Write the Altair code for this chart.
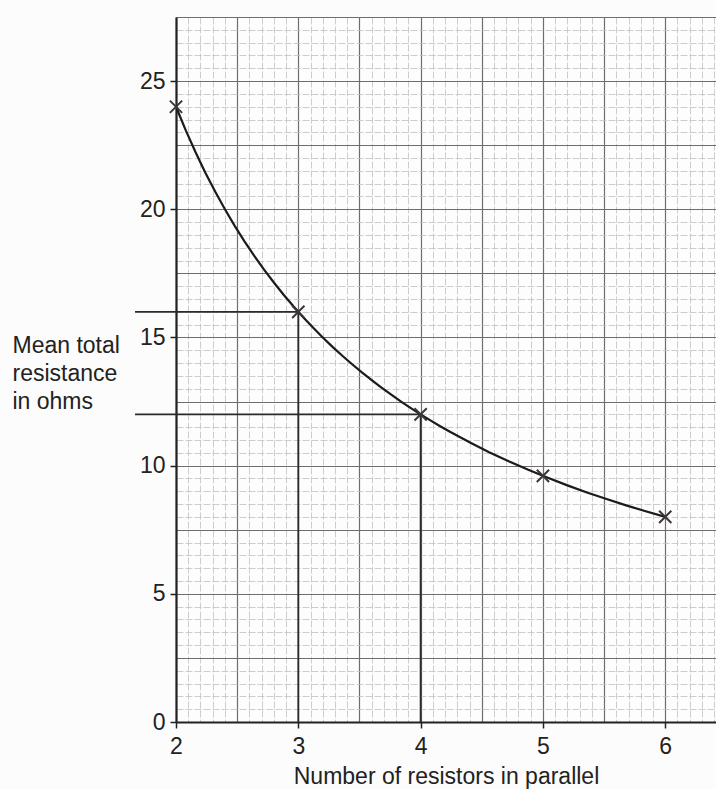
import altair as alt
import numpy as np
import pandas as pd

# Measured mean total resistance for n identical resistors in parallel
n_resistors = [2, 3, 4, 5, 6]
mean_resistance = [24, 16, 12, 9.6, 8]

# Read-off construction lines: from the resistance axis across to the curve, then down
guide_n = [3, 4]
guide_r = [16, 12]
guide_start = 1.665  # lines begin just left of the resistance axis

# Graph-paper rulings (minor squares) and axis ranges
x_min, x_max = 2.0, 6.415
y_min, y_max = 0.0, 27.5
x_grid = np.round(np.arange(2.0, 6.41, 0.1), 2).tolist()
y_grid = np.round(np.arange(0.0, 27.51, 0.5), 2).tolist()

FONT = "Liberation Sans"
INK = "#222222"

curve_df = pd.DataFrame({"n": n_resistors, "r": mean_resistance})

rows = []
for gn, gr in zip(guide_n, guide_r):
    rows.append({"x": guide_start, "x2": gn, "y": gr, "y2": gr})
    rows.append({"x": gn, "x2": gn, "y": gr, "y2": 0})
guide_df = pd.DataFrame(rows)

x_major = "abs(datum.value * 2 - round(datum.value * 2)) < 0.001"
x_label = "abs(datum.value - round(datum.value)) < 0.001"
y_major = "abs(datum.value / 2.5 - round(datum.value / 2.5)) < 0.001"
y_label = "abs(datum.value / 5 - round(datum.value / 5)) < 0.001"

x_axis = alt.Axis(
    values=x_grid,
    title="Number of resistors in parallel",
    titleFont=FONT, titleFontSize=23, titleFontWeight="normal", titleColor=INK,
    titleAlign="center", titleBaseline="alphabetic", titleX=270, titleY=61,
    labelExpr=f"{x_label} ? format(datum.value, 'd') : ''",
    labelFont=FONT, labelFontSize=23, labelColor=INK, labelPadding=7,
    labelOverlap=False, labelFlush=False,
    tickSize=6, tickColor=INK, tickWidth=1.5,
    tickOpacity={"condition": {"test": x_label, "value": 1}, "value": 0},
    domainColor=INK, domainWidth=2.2,
    grid=True,
    gridColor={"condition": {"test": x_major, "value": "#6e6e6e"}, "value": "#c0c0c0"},
    gridWidth={"condition": {"test": x_major, "value": 1.2}, "value": 0.8},
    gridDash={"condition": {"test": x_major, "value": []}, "value": [7, 2]},
)

y_axis = alt.Axis(
    values=y_grid,
    title=["Mean total", "resistance", "in ohms"],
    titleAngle=0, titleAlign="left", titleBaseline="alphabetic",
    titleX=-164, titleY=335, titleLineHeight=28,
    titleFont=FONT, titleFontSize=23, titleFontWeight="normal", titleColor=INK,
    labelExpr=f"{y_label} ? format(datum.value, 'd') : ''",
    labelFont=FONT, labelFontSize=23, labelColor=INK, labelPadding=5,
    labelOverlap=False, labelFlush=False,
    tickSize=6, tickColor=INK, tickWidth=1.5,
    tickOpacity={"condition": {"test": y_label, "value": 1}, "value": 0},
    domainColor=INK, domainWidth=2.2,
    grid=True,
    gridColor={"condition": {"test": y_major, "value": "#6e6e6e"}, "value": "#c0c0c0"},
    gridWidth={"condition": {"test": y_major, "value": 1.2}, "value": 0.8},
    gridDash={"condition": {"test": y_major, "value": []}, "value": [7, 2]},
)

x_scale = alt.Scale(domain=[x_min, x_max], nice=False, zero=False)
y_scale = alt.Scale(domain=[y_min, y_max], nice=False, zero=True)

# Smooth best-fit curve through the measurements (power-law fit, R ~ a * n^b)
curve = alt.Chart(curve_df).transform_regression(
    "n", "r", method="pow", extent=[min(n_resistors), max(n_resistors)]
).mark_line(color="#1c1a1b", strokeWidth=2.2).encode(
    x=alt.X("n:Q", scale=x_scale, axis=x_axis),
    y=alt.Y("r:Q", scale=y_scale, axis=y_axis),
)

guides = alt.Chart(guide_df).mark_rule(color="#2a2a2a", strokeWidth=1.8).encode(
    x=alt.X("x:Q", scale=x_scale, axis=x_axis),
    x2="x2:Q",
    y=alt.Y("y:Q", scale=y_scale, axis=y_axis),
    y2="y2:Q",
)

crosses = alt.Chart(curve_df).mark_point(
    shape="M-1,-1L1,1M-1,1L1,-1", size=150, filled=False,
    stroke="#3e3538", strokeWidth=2, opacity=1
).encode(
    x=alt.X("n:Q", scale=x_scale, axis=x_axis),
    y=alt.Y("r:Q", scale=y_scale, axis=y_axis),
)

chart = alt.layer(guides, curve, crosses).properties(
    width=540,
    height=705,
    padding={"left": 176, "top": 17, "right": 0, "bottom": 67},
    autosize=alt.AutoSizeParams(type="none"),
    background="#fcfcfc",
).configure_view(stroke=None, fill="#fdfdfd")

chart.save("out.html", embed_options={"renderer": "svg", "actions": False})
